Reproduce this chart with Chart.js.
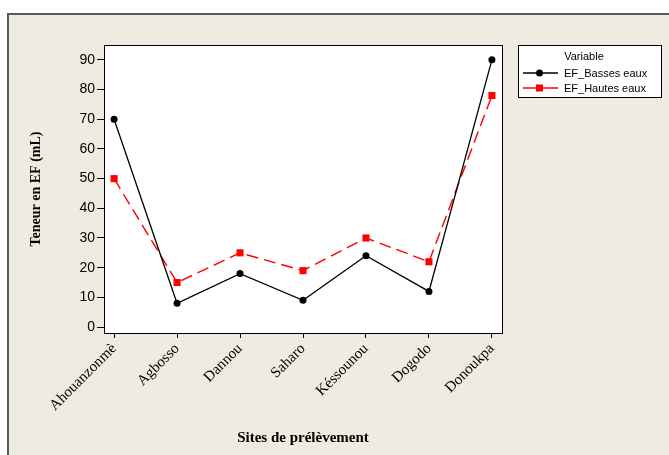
<!DOCTYPE html>
<html>
<head>
<meta charset="utf-8">
<script src="https://cdn.jsdelivr.net/npm/chart.js@4"></script>
<style>
  html, body { margin: 0; padding: 0; background: #fff; }
  #frame {
    position: absolute; left: 7px; top: 13px; width: 700px; height: 480px;
    background: #efebe1; border-top: 2px solid #5a5a5a; border-left: 2px solid #5a5a5a;
  }
  #wrap { position: absolute; left: 0; top: 0; width: 669px; height: 455px; }
</style>
</head>
<body>
<div id="frame"></div>
<div id="wrap"><canvas id="chart-ef" width="669" height="455"></canvas></div>
<script>
const sites = ['Ahouanzonmè', 'Agbosso', 'Dannou', 'Saharo', 'Késsounou', 'Dogodo', 'Donoukpa']
const bassesEaux = [70, 8, 18, 9, 24, 12, 90]
const hautesEaux = [50, 15, 25, 19, 30, 22, 78]
const yTicks = [0, 10, 20, 30, 40, 50, 60, 70, 80, 90]

const canvas = document.getElementById('chart-ef')

// white plot area + black frame around it
const plotBox = {
  id: 'plotBox',
  beforeDatasetsDraw(chart) {
    const { ctx, chartArea: a } = chart
    ctx.save()
    ctx.strokeStyle = '#000'
    ctx.lineWidth = 1
    ctx.strokeRect(a.left + 0.5, a.top + 0.5, a.right - a.left, a.bottom - a.top)
    ctx.restore()
  },
  beforeDraw(chart) {
    const { ctx, chartArea: a } = chart
    ctx.save()
    ctx.fillStyle = '#fff'
    ctx.fillRect(a.left, a.top, a.right - a.left, a.bottom - a.top)
    ctx.restore()
  }
}

// legend box like the original (line + marker)
const boxLegend = {
  id: 'boxLegend',
  afterDraw(chart) {
    const { ctx } = chart
    const x = 518, y = 45, w = 143, h = 52
    ctx.save()
    ctx.fillStyle = '#fff'
    ctx.fillRect(x, y, w, h)
    ctx.strokeStyle = '#000'
    ctx.lineWidth = 1
    ctx.strokeRect(x + 0.5, y + 0.5, w, h)
    ctx.fillStyle = '#000'
    ctx.font = '11px "Liberation Sans", Arial, sans-serif'
    ctx.textBaseline = 'middle'
    ctx.textAlign = 'center'
    ctx.fillText('Variable', 584, 57)
    ctx.textAlign = 'left'
    chart.data.datasets.forEach((ds, i) => {
      const ly = 73 + i * 15
      ctx.strokeStyle = ds.borderColor
      ctx.lineWidth = 1.3
      ctx.beginPath()
      ctx.moveTo(523, ly)
      ctx.lineTo(558, ly)
      ctx.stroke()
      ctx.fillStyle = ds.pointBackgroundColor
      ctx.beginPath()
      if (ds.pointStyle === 'rect') {
        ctx.rect(536, ly - 3.5, 7, 7)
      } else {
        ctx.arc(539.5, ly, 3.5, 0, Math.PI * 2)
      }
      ctx.fill()
      ctx.fillStyle = '#000'
      ctx.fillText(ds.label, 564, ly + 1)
    })
    ctx.restore()
  }
}

new Chart(canvas, {
  type: 'line',
  data: {
    datasets: [
      {
        label: 'EF_Basses eaux',
        data: bassesEaux.map((v, i) => ({ x: i, y: v })),
        borderColor: '#000',
        borderWidth: 1.3,
        pointStyle: 'circle',
        pointRadius: 3.5,
        pointBackgroundColor: '#000',
        pointBorderWidth: 0,
        tension: 0,
        fill: false
      },
      {
        label: 'EF_Hautes eaux',
        data: hautesEaux.map((v, i) => ({ x: i, y: v })),
        borderColor: '#ff0000',
        borderWidth: 1.4,
        borderDash: [12, 6],
        pointStyle: 'rect',
        pointRadius: 5,
        pointBackgroundColor: '#ff0000',
        pointBorderWidth: 0,
        tension: 0,
        fill: false
      }
    ]
  },
  options: {
    responsive: false,
    animation: false,
    devicePixelRatio: 1,
    layout: { padding: { left: 20, top: 45, right: 167, bottom: 0 } },
    plugins: {
      legend: { display: false },
      tooltip: { enabled: false }
    },
    scales: {
      x: {
        type: 'linear',
        min: -0.16,
        max: 6.16,
        afterBuildTicks: (scale) => { scale.ticks = sites.map((_, i) => ({ value: i })) },
        afterFit: (scale) => { scale.height = 122 },
        grid: { drawOnChartArea: false, color: '#000', tickLength: 5, tickWidth: 1 },
        border: { color: '#000' },
        ticks: {
          autoSkip: false,
          minRotation: 45,
          maxRotation: 45,
          padding: 2,
          color: '#000',
          font: { family: '"Liberation Serif", "Times New Roman", serif', size: 15 },
          callback: (v) => sites[v]
        },
        title: {
          display: true,
          text: 'Sites de prélèvement',
          color: '#000',
          font: { family: '"Liberation Serif", "Times New Roman", serif', size: 15, weight: 'bold' },
          padding: { top: 0, bottom: 8 }
        }
      },
      y: {
        min: -2,
        max: 95,
        afterBuildTicks: (scale) => { scale.ticks = yTicks.map(v => ({ value: v })) },
        afterFit: (scale) => { scale.width = 84 },
        grid: { drawOnChartArea: false, color: '#000', tickLength: 7, tickWidth: 1 },
        border: { color: '#000' },
        ticks: {
          padding: 2,
          color: '#000',
          font: { family: '"Liberation Sans", Arial, sans-serif', size: 14 }
        },
        title: {
          display: true,
          text: 'Teneur en EF (mL)',
          color: '#000',
          font: { family: '"Liberation Serif", "Times New Roman", serif', size: 14, weight: 'bold' },
          padding: { top: 8, bottom: 0 }
        }
      }
    }
  },
  plugins: [plotBox, boxLegend]
})
</script>
</body>
</html>
